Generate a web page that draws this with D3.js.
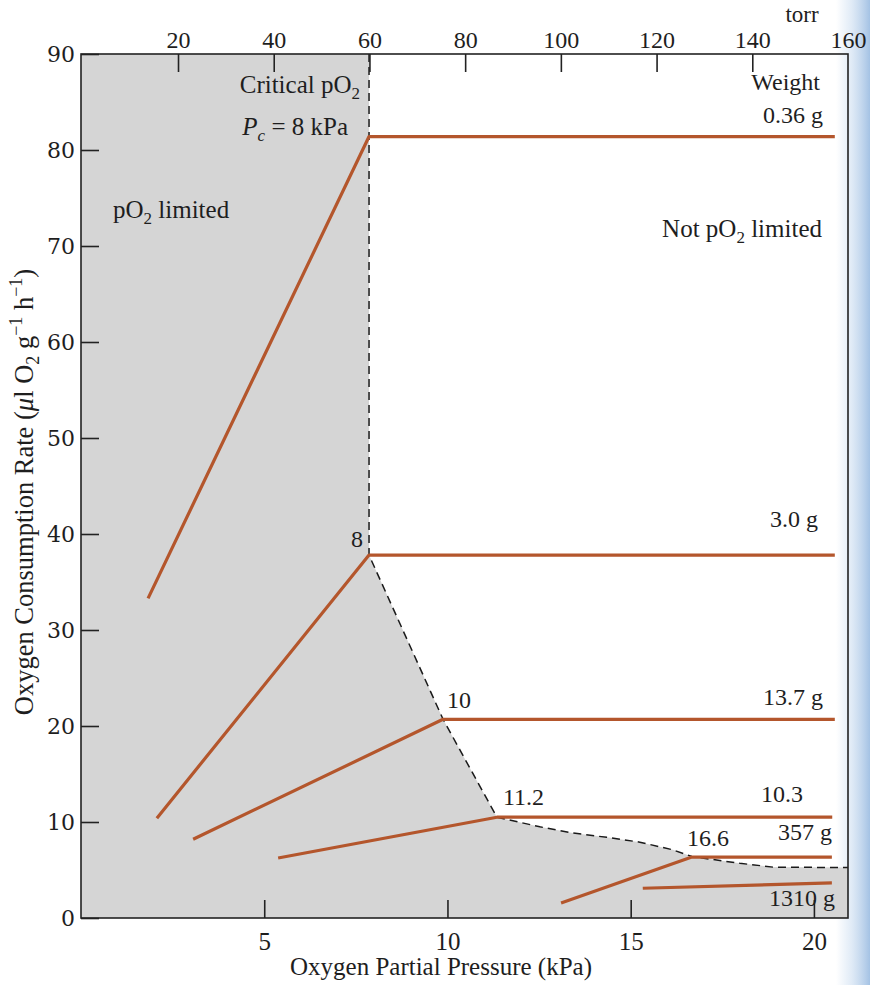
<!DOCTYPE html>
<html>
<head>
<meta charset="utf-8">
<script src="https://cdn.jsdelivr.net/npm/d3@7"></script>
<style>
  html, body { margin: 0; padding: 0; background: #ffffff; }
  svg { display: block; }
  text { font-family: "Liberation Serif", "Times New Roman", serif; fill: #1e1e1e; }
</style>
</head>
<body>
<svg id="chart" width="870" height="985"></svg>
<script>
// ---- data ----
const kPaTicks = [5, 10, 15, 20];
const torrTicks = [20, 40, 60, 80, 100, 120, 140, 160];
const rateTicks = [0, 10, 20, 30, 40, 50, 60, 70, 80, 90];

const weightLabels = ["0.36 g", "3.0 g", "13.7 g", "10.3", "357 g", "1310 g"];
const startP      = [1.83, 2.07, 3.06, 5.38, 13.1, 15.33];
const startRate   = [33.3, 10.4, 8.2, 6.25, 1.56, 3.1];
const kneeP       = [7.86, 7.86, 9.88, 11.35, 16.67, null];
const plateauRate = [81.4, 37.8, 20.7, 10.5, 6.35, 3.65];
const endP        = [20.57, 20.57, 20.57, 20.5, 20.49, 20.49];

const kneeLabels  = ["8", "10", "11.2", "16.6"];
const kneeLabelP  = [7.86, 9.88, 11.35, 16.67];
const kneeLabelR  = [37.8, 20.7, 10.5, 6.35];

// critical pO2 boundary (dashed)
const boundaryP    = [7.86, 7.86, 9.88, 11.35, 12.52, 13.42, 14.35, 15.25, 16.15, 16.67, 17.98, 18.88, 20.93];
const boundaryRate = [90, 37.8, 20.7, 10.5, 9.5, 8.85, 8.4, 7.9, 7.1, 6.4, 5.7, 5.3, 5.25];

// ---- layout ----
const svg = d3.select("#chart");
const L = 81, T = 54, R = 848, B = 918;
const W = R - L, H = B - T;

const x = d3.scaleLinear().domain([0, 20.93]).range([0, W]);
const xTorr = d3.scaleLinear().domain([0, 160]).range([1.3, W]);
const y = d3.scaleLinear().domain([0, 90]).range([H, 0]);

// page-edge blue tint (behind everything)
const defs = svg.append("defs");
const grad = defs.append("linearGradient").attr("id", "edge").attr("x1", 0).attr("x2", 1).attr("y1", 0).attr("y2", 0);
grad.append("stop").attr("offset", "0%").attr("stop-color", "#bcd3ec").attr("stop-opacity", 0);
grad.append("stop").attr("offset", "45%").attr("stop-color", "#bcd3ec").attr("stop-opacity", 0.45);
grad.append("stop").attr("offset", "100%").attr("stop-color", "#a4c2e4").attr("stop-opacity", 1);
svg.append("rect").attr("x", 836).attr("y", 0).attr("width", 34).attr("height", 985)
  .attr("fill", "url(#edge)");

const g = svg.append("g").attr("transform", `translate(${L},${T})`);

// shaded pO2-limited region
const shade = [[0, 0], [0, 90]].concat(boundaryP.map((p, i) => [p, boundaryRate[i]])).concat([[20.93, 0]]);
g.append("path")
  .attr("d", d3.line().x(d => x(d[0])).y(d => y(d[1]))(shade) + "Z")
  .attr("fill", "#d5d5d5");

// dashed boundary
g.append("path")
  .attr("d", d3.line().x((d, i) => x(boundaryP[i])).y((d, i) => y(boundaryRate[i]))(boundaryP))
  .attr("fill", "none").attr("stroke", "#1a1a1a").attr("stroke-width", 1.5)
  .attr("stroke-dasharray", "8,5");

// weight lines
const lineColor = "#b4562c";
weightLabels.forEach((w, i) => {
  const pts = kneeP[i] === null
    ? [[startP[i], startRate[i]], [endP[i], plateauRate[i]]]
    : [[startP[i], startRate[i]], [kneeP[i], plateauRate[i]], [endP[i], plateauRate[i]]];
  g.append("path")
    .attr("d", d3.line().x(d => x(d[0])).y(d => y(d[1]))(pts))
    .attr("fill", "none").attr("stroke", lineColor).attr("stroke-width", 3.2)
    .attr("stroke-linejoin", "round").attr("stroke-linecap", "butt");
});

// axes
const axL = g.append("g").call(d3.axisLeft(y).tickValues(rateTicks).tickSizeInner(-18).tickSizeOuter(0).tickPadding(6));
axL.selectAll("text").style("font-family", "'DejaVu Serif', serif").style("font-size", "22px").attr("fill", "#1e1e1e");
const axB = g.append("g").attr("transform", `translate(0,${H})`)
  .call(d3.axisBottom(x).tickValues(kPaTicks).tickSizeInner(-18).tickSizeOuter(0).tickPadding(14));
axB.selectAll("text").style("font-size", "25px").attr("fill", "#1e1e1e");
const axT = g.append("g")
  .call(d3.axisTop(xTorr).tickValues(torrTicks).tickSizeInner(-18).tickSizeOuter(0).tickPadding(6));
axT.selectAll("text").style("font-size", "24px").attr("fill", "#1e1e1e");
axT.selectAll(".tick").filter(d => d === 160).select("line").remove();
[axL, axB, axT].forEach(a => {
  a.select(".domain").remove();
  a.selectAll("line").attr("stroke", "#222").attr("stroke-width", 1.6);
});
// frame
g.append("rect").attr("x", 0).attr("y", 0).attr("width", W).attr("height", H)
  .attr("fill", "none").attr("stroke", "#222").attr("stroke-width", 1.6);

// axis titles
svg.append("text").attr("x", 802).attr("y", 22).attr("text-anchor", "middle")
  .style("font-size", "23px").text("torr");
svg.append("text").attr("x", 441).attr("y", 975).attr("text-anchor", "middle")
  .style("font-size", "25px").text("Oxygen Partial Pressure (kPa)");

const yt = svg.append("text").attr("transform", "translate(33,492) rotate(-90)")
  .attr("text-anchor", "middle").style("font-size", "26.5px");
yt.append("tspan").text("Oxygen Consumption Rate (");
yt.append("tspan").style("font-style", "italic").text("μ");
yt.append("tspan").text("l O");
yt.append("tspan").attr("dy", 6).style("font-size", "18px").text("2");
yt.append("tspan").attr("dy", -6).text(" g");
yt.append("tspan").attr("dy", -11).style("font-size", "18px").text("−1");
yt.append("tspan").attr("dy", 11).text(" h");
yt.append("tspan").attr("dy", -11).style("font-size", "18px").text("−1");
yt.append("tspan").attr("dy", 11).text(")");

// annotations
function sub(sel, main, s, rest) {
  sel.append("tspan").text(main);
  sel.append("tspan").attr("dy", 6).style("font-size", "17px").text(s);
  if (rest) sel.append("tspan").attr("dy", -6).text(rest);
}
sub(svg.append("text").attr("x", 360).attr("y", 93).attr("text-anchor", "end").style("font-size", "25px"), "Critical pO", "2");
const pc = svg.append("text").attr("x", 348).attr("y", 135).attr("text-anchor", "end").style("font-size", "25px");
pc.append("tspan").style("font-style", "italic").text("P");
pc.append("tspan").attr("dy", 6).style("font-style", "italic").style("font-size", "17px").text("c");
pc.append("tspan").attr("dy", -6).text(" = 8 kPa");
sub(svg.append("text").attr("x", 113).attr("y", 218).style("font-size", "25px"), "pO", "2", " limited");
sub(svg.append("text").attr("x", 822).attr("y", 237).attr("text-anchor", "end").style("font-size", "25px"), "Not pO", "2", " limited");
svg.append("text").attr("x", 820).attr("y", 90).attr("text-anchor", "end").style("font-size", "24px").text("Weight");

// weight labels
const wlEnd = [823, 818, 823, 803, 832, 835];
const wlBase = [123, 527, 705, 802, 840, 906];
weightLabels.forEach((w, i) => {
  svg.append("text").attr("x", wlEnd[i]).attr("y", wlBase[i]).attr("text-anchor", "end")
    .style("font-size", "24px").text(w);
});

// knee labels
const klDx = [-6, 4, 6, -5];
const klDy = [-8, -11, -12, -11];
const klAnchor = ["end", "start", "start", "start"];
kneeLabels.forEach((k, i) => {
  g.append("text").attr("x", x(kneeLabelP[i]) + klDx[i]).attr("y", y(kneeLabelR[i]) + klDy[i])
    .attr("text-anchor", klAnchor[i]).style("font-size", "24px").text(k);
});
</script>
</body>
</html>
